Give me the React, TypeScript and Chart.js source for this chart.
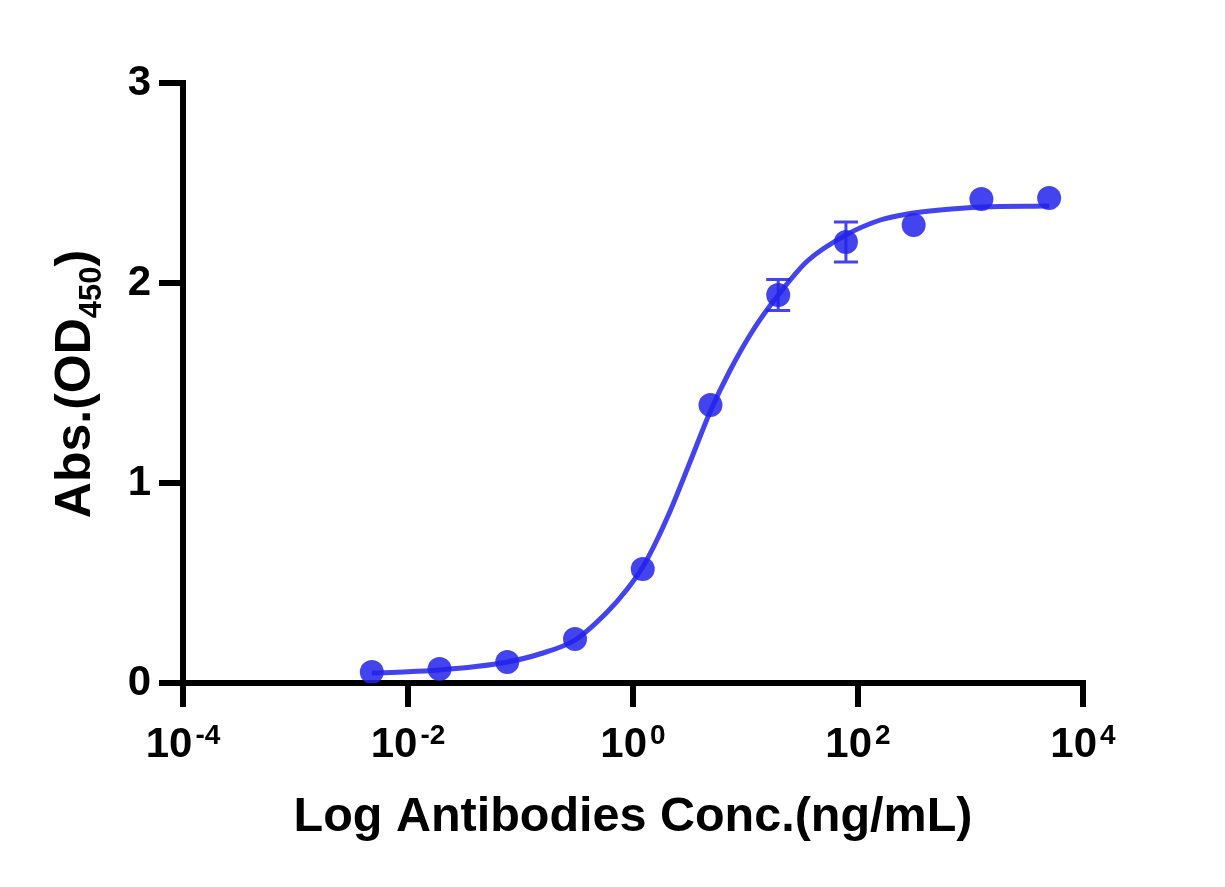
import React, { useEffect, useRef } from 'react';
import { Chart, registerables } from 'chart.js';

Chart.register(...registerables);

// Measured points (ng/mL, OD450)
const concentrations = [0.004768, 0.01907, 0.07629, 0.3052, 1.221, 4.883, 19.53, 78.13, 312.5, 1250, 5000];
const absorbance = [0.055, 0.07, 0.105, 0.22, 0.57, 1.39, 1.94, 2.205, 2.29, 2.42, 2.425];
const errors = [0, 0, 0, 0, 0, 0, 0.077, 0.1, 0, 0, 0];

// Fitted curve
const curveConc = [0.004768, 0.01, 0.01907, 0.04, 0.07629, 0.148, 0.3052, 0.59, 0.89, 1.221, 1.585, 2.14, 3.24, 4.883, 7.24, 11.7, 19.53, 35.5, 78.13, 158, 275, 537, 1250, 5000];
const curveAbs = [0.05, 0.056, 0.065, 0.082, 0.105, 0.145, 0.215, 0.355, 0.47, 0.58, 0.7, 0.86, 1.11, 1.36, 1.56, 1.765, 1.94, 2.11, 2.24, 2.315, 2.345, 2.365, 2.38, 2.385];

const xTickValues = [1e-4, 1e-2, 1, 1e2, 1e4];
const yTickValues = [0, 1, 2, 3];

const xTitle = 'Log Antibodies Conc.(ng/mL)';
const yTitleMain = 'Abs.(OD';
const yTitleSub = '450';
const yTitleEnd = ')';

const FONT = '"Liberation Sans", Arial, Helvetica, sans-serif';
const BLUE = 'rgba(35,35,235,0.85)';

const overlay = {
  id: 'overlay',
  afterDatasetsDraw(chart: any) {
    const { ctx } = chart;
    const x = chart.scales.x;
    const y = chart.scales.y;
    ctx.save();
    ctx.strokeStyle = BLUE;
    ctx.lineWidth = 3;
    concentrations.forEach((c, i) => {
      const e = errors[i];
      if (!e) return;
      const px = x.getPixelForValue(c);
      const top = y.getPixelForValue(absorbance[i] + e);
      const bot = y.getPixelForValue(absorbance[i] - e);
      ctx.beginPath();
      ctx.moveTo(px, top);
      ctx.lineTo(px, bot);
      ctx.moveTo(px - 12, top);
      ctx.lineTo(px + 12, top);
      ctx.moveTo(px - 12, bot);
      ctx.lineTo(px + 12, bot);
      ctx.stroke();
    });
    ctx.restore();
  },
  afterDraw(chart: any) {
    const { ctx, chartArea } = chart;
    const x = chart.scales.x;
    ctx.save();
    ctx.fillStyle = '#000';
    ctx.textBaseline = 'alphabetic';
    ctx.textAlign = 'left';
    // x tick labels with superscripts
    const gap = 3;
    xTickValues.forEach((v) => {
      const px = x.getPixelForValue(v);
      const exp = String(Math.round(Math.log10(v)));
      ctx.font = `bold 42px ${FONT}`;
      const wb = ctx.measureText('10').width;
      ctx.font = `bold 28px ${FONT}`;
      const ws = ctx.measureText(exp).width;
      const start = px - (wb + gap + ws) / 2;
      ctx.font = `bold 42px ${FONT}`;
      ctx.fillText('10', start, 757);
      ctx.font = `bold 28px ${FONT}`;
      ctx.fillText(exp, start + wb + gap, 744);
    });
    // x title
    ctx.font = `bold 48.5px ${FONT}`;
    ctx.textAlign = 'center';
    ctx.fillText(xTitle, (chartArea.left + chartArea.right) / 2, 831);
    // y title with subscript
    ctx.textAlign = 'left';
    ctx.translate(90, 384);
    ctx.rotate(-Math.PI / 2);
    ctx.font = `bold 50px ${FONT}`;
    const w1 = ctx.measureText(yTitleMain).width;
    const w3 = ctx.measureText(yTitleEnd).width;
    ctx.font = `bold 31px ${FONT}`;
    const w2 = ctx.measureText(yTitleSub).width;
    let sx = -(w1 + w2 + w3) / 2;
    ctx.font = `bold 50px ${FONT}`;
    ctx.fillText(yTitleMain, sx, 0);
    sx += w1;
    ctx.font = `bold 31px ${FONT}`;
    ctx.fillText(yTitleSub, sx, 11);
    sx += w2;
    ctx.font = `bold 50px ${FONT}`;
    ctx.fillText(yTitleEnd, sx, 0);
    ctx.restore();
  },
};

export default function App() {
  const canvasRef = useRef<HTMLCanvasElement | null>(null);

  useEffect(() => {
    if (!canvasRef.current) return;
    const chart = new Chart(canvasRef.current, {
      type: 'scatter',
      data: {
        datasets: [
          {
            type: 'scatter',
            label: 'data',
            data: concentrations.map((c, i) => ({ x: c, y: absorbance[i] })),
            backgroundColor: BLUE,
            borderWidth: 0,
            pointRadius: 12,
            pointHoverRadius: 12,
          },
          {
            type: 'line',
            label: 'fit',
            data: curveConc.map((c, i) => ({ x: c, y: curveAbs[i] })),
            borderColor: BLUE,
            borderWidth: 5,
            pointRadius: 0,
            fill: false,
            cubicInterpolationMode: 'monotone',
            showLine: true,
          } as any,
        ],
      },
      options: {
        animation: false,
        responsive: false,
        devicePixelRatio: 1,
        layout: { padding: { top: 83, right: 142, left: 0, bottom: 0 } },
        plugins: { legend: { display: false }, tooltip: { enabled: false } },
        scales: {
          x: {
            type: 'logarithmic',
            min: 1e-4,
            max: 1e4,
            afterBuildTicks: (s: any) => {
              s.ticks = xTickValues.map((v) => ({ value: v }));
            },
            afterFit: (s: any) => {
              s.height = 204;
            },
            ticks: { display: false },
            grid: { drawOnChartArea: false, drawTicks: true, tickLength: 24, lineWidth: 6, color: '#000' },
            border: { display: true, width: 6, color: '#000' },
          },
          y: {
            type: 'linear',
            min: 0,
            max: 3,
            afterBuildTicks: (s: any) => {
              s.ticks = yTickValues.map((v) => ({ value: v }));
            },
            afterFit: (s: any) => {
              s.width = 183;
            },
            ticks: {
              padding: 8,
              color: '#000',
              font: { family: FONT, size: 42, weight: 'bold' },
              callback: (v: any) => String(v),
            },
            grid: { drawOnChartArea: false, drawTicks: true, tickLength: 24, lineWidth: 6, color: '#000' },
            border: { display: true, width: 6, color: '#000' },
          },
        },
      },
      plugins: [overlay],
    });
    return () => chart.destroy();
  }, []);

  return (
    <div style={{ position: 'absolute', left: 0, top: 0, width: 1225, height: 887, background: '#fff' }}>
      <canvas ref={canvasRef} width={1225} height={887} style={{ width: 1225, height: 887 }} />
    </div>
  );
}
